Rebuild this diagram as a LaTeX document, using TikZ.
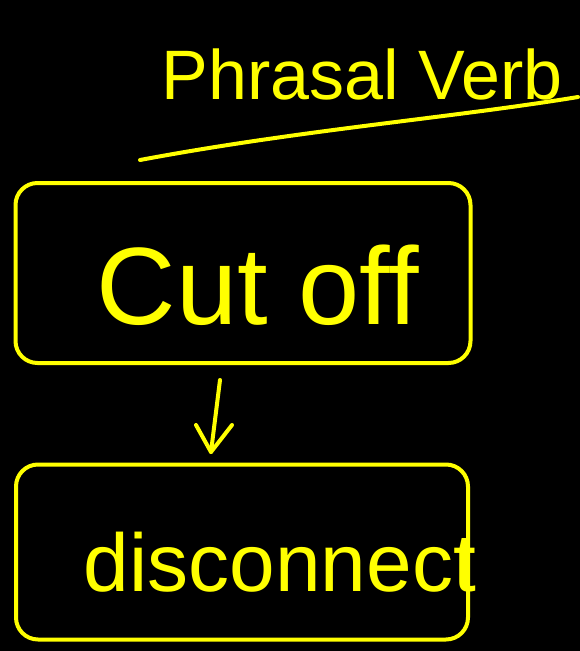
\documentclass[tikz,border=0pt]{standalone}
\usepackage{fontspec}
\setmainfont{Liberation Sans}
\definecolor{ink}{HTML}{FFFF00}
\begin{document}
\begin{tikzpicture}[x=1pt,y=-1pt,
  pen/.style={draw=ink,line width=4pt,line cap=round,line join=round},
  words/.style={text=ink,inner sep=0pt,anchor=center}]
\useasboundingbox[fill=black] (0,0) rectangle (580,651);
% title
\node[words,font=\fontsize{70}{80}\selectfont] (title) at (362,74) {Phrasal Verb};
\coordinate (u1) at (140,160);
\coordinate (u2) at (578,97);
\draw[pen] (u1) .. controls (300,130) and (450,118) .. (u2);
% box 1
\node[pen,rounded corners=22pt,minimum width=455pt,minimum height=180pt] (box1) at (243,273) {};
\node[words,font=\fontsize{110}{120}\selectfont] (t1) at (258,285) {Cut off};
% box 2
\node[pen,rounded corners=22pt,minimum width=452pt,minimum height=175pt] (box2) at (242,552) {};
\node[words,font=\fontsize{82}{92}\selectfont] (t2) at (280,562) {disconnect};
% arrow
\coordinate (a1) at (220,380);
\coordinate (a2) at (211,452);
\draw[pen] (a1) -- (a2);
\draw[pen] (196,425) -- (a2) -- (232,425);
\end{tikzpicture}
\end{document}
